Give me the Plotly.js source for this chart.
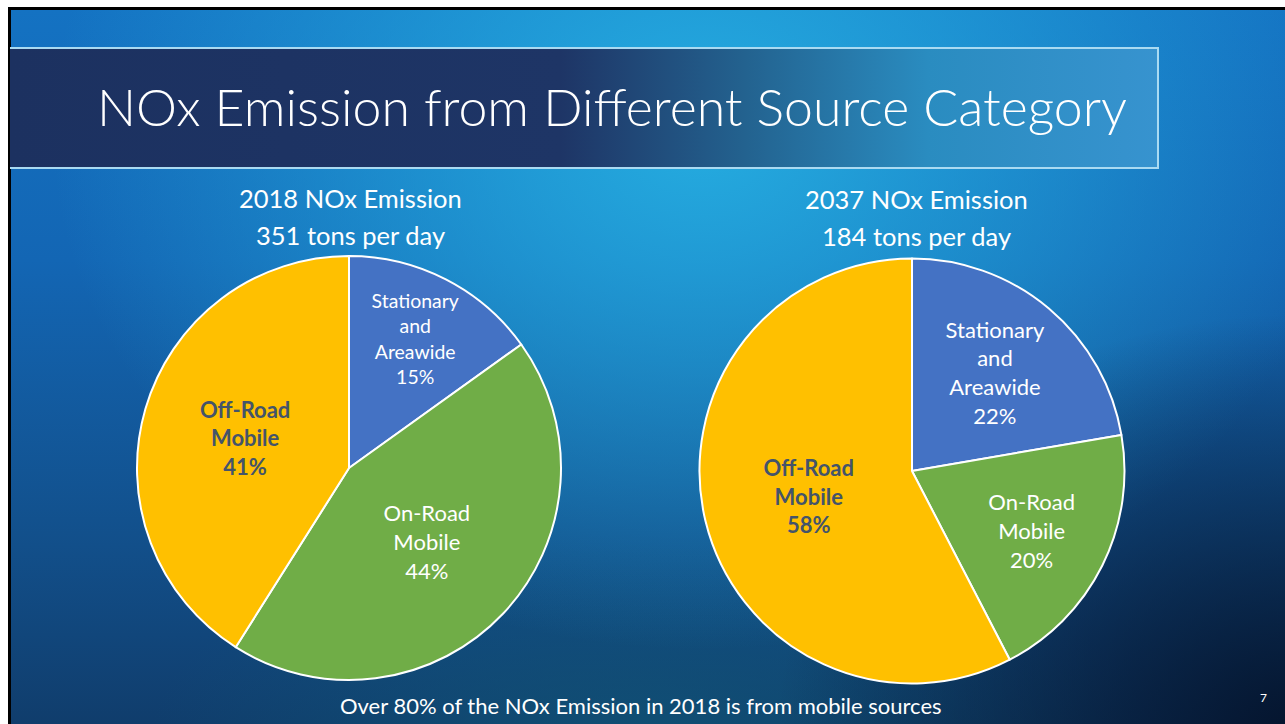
<!DOCTYPE html>
<html>
<head>
<meta charset="utf-8">
<script src="https://cdn.plot.ly/plotly-3.0.1.min.js"></script>
<style>
  html, body { margin:0; padding:0; width:1285px; height:724px; overflow:hidden; background:#ffffff; }
  #slide {
    position:absolute; left:8px; top:7px; width:1277px; height:717px;
    border-left:3px solid #000; border-top:3px solid #000; box-sizing:border-box;
    background:
      radial-gradient(ellipse 520px 420px at 1285px 724px, rgba(4,18,42,0.95), rgba(4,18,42,0) 100%),
      radial-gradient(ellipse 650px 520px at 690px 120px, rgba(38,176,226,0.95), rgba(38,176,226,0) 100%),
      radial-gradient(ellipse 500px 200px at 640px 724px, rgba(16,90,120,0.6), rgba(16,90,120,0) 100%),
      linear-gradient(to bottom, #1472c2 0%, #1366b4 35%, #124f8a 75%, #103d6c 100%);
  }
  #bar {
    position:absolute; left:10px; top:47px; width:1149px; height:122px; box-sizing:border-box;
    border-top:2px solid #a9daf2; border-bottom:2px solid #a9daf2; border-right:2px solid #a9daf2;
    background: linear-gradient(to right, #1c3160 0%, #1e3566 48%, #23628f 64%, #2a8cc0 80%, #3793cf 100%);
  }
  #chart { position:absolute; left:0; top:0; width:1285px; height:724px; }
</style>
</head>
<body>
<div id="slide"></div>
<div id="bar"></div>
<div id="chart"></div>
<script>
// ---- data ----
const categories = ['Stationary<br>and<br>Areawide', 'On-Road<br>Mobile', 'Off-Road<br>Mobile'];
const tons2018 = [53, 154, 144];   // total 351 tons per day
const tons2037 = [41, 37, 106];    // total 184 tons per day
const sliceColors = ['#4472C4', '#70AD47', '#FFC000'];
const titleText = 'NOx Emission from Different Source Category';
const subtitle2018 = ['2018 NOx Emission', '351 tons per day'];
const subtitle2037 = ['2037 NOx Emission', '184 tons per day'];
const footerText = 'Over 80% of the NOx Emission in 2018 is from mobile sources';
const pageNumber = '7';

const W = 1285, H = 724;
const FONT = 'Lato, "Open Sans", sans-serif';
const tmpl = ['%{label}<br>%{percent:.0%}', '%{label}<br>%{percent:.0%}', '<b>%{label}<br>%{percent:.0%}</b>'];
const txtColors = ['#ffffff', '#ffffff', '#44546A'];

function pieTrace(values, dom) {
  return {
    type: 'pie', labels: categories, values: values, sort: false,
    direction: 'clockwise', rotation: 0,
    marker: { colors: sliceColors, line: { color: '#ffffff', width: 2 } },
    texttemplate: tmpl, textposition: 'inside', insidetextorientation: 'horizontal',
    textfont: { family: FONT, size: 22, color: txtColors },
    hoverinfo: 'label+value+percent', showlegend: false,
    domain: dom
  };
}
function px(x) { return x / W; }
function py(y) { return 1 - y / H; }

const data = [
  pieTrace(tons2018, { x: [px(349 - 212), px(349 + 212)], y: [py(468 + 212), py(468 - 212)] }),
  pieTrace(tons2037, { x: [px(912 - 212.5), px(912 + 212.5)], y: [py(471 + 212.5), py(471 - 212.5)] })
];

function ann(text, x, y, size, extra) {
  return Object.assign({ text: text, x: px(x), y: py(y), xref: 'paper', yref: 'paper',
    xanchor: 'center', yanchor: 'middle', showarrow: false,
    font: { family: FONT, size: size, color: '#ffffff' } }, extra || {});
}

const layout = {
  width: W, height: H,
  margin: { l: 0, r: 0, t: 0, b: 0 },
  paper_bgcolor: 'rgba(0,0,0,0)', plot_bgcolor: 'rgba(0,0,0,0)',
  title: { text: titleText, x: px(97), xanchor: 'left', xref: 'container',
           y: py(108), yanchor: 'middle', yref: 'container',
           font: { family: FONT, size: 51.8, color: '#ffffff', weight: 300 } },
  annotations: [
    ann(subtitle2018[0], 351, 198, 25.5),
    ann(subtitle2018[1], 351, 235, 25.5),
    ann(subtitle2037[0], 916, 199, 25.5),
    ann(subtitle2037[1], 916, 236, 25.5),
    ann(footerText, 641, 705, 22),
    ann(pageNumber, 1263, 697, 12)
  ]
};

Plotly.newPlot('chart', data, layout, { displayModeBar: false, staticPlot: true });
</script>
</body>
</html>
